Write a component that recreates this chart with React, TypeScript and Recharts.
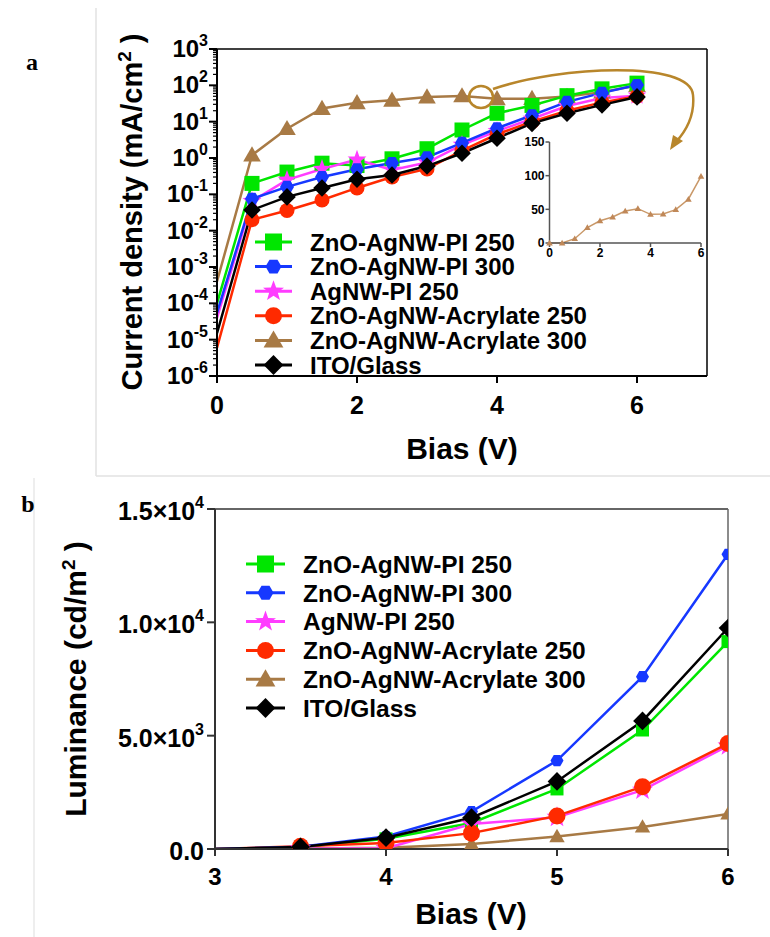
import React from 'react';
import { LineChart, Line, XAxis, YAxis, ReferenceLine } from 'recharts';

const FONT = '"Liberation Sans", Arial, Helvetica, sans-serif';

// series info (legend order)
const seriesNames = [
  'ZnO-AgNW-PI 250',
  'ZnO-AgNW-PI 300',
  'AgNW-PI 250',
  'ZnO-AgNW-Acrylate 250',
  'ZnO-AgNW-Acrylate 300',
  'ITO/Glass',
];
const seriesColors = ['#00e600', '#1638ff', '#ff3cff', '#ff2a00', '#a87a45', '#000000'];
const seriesShapes = ['square', 'hex', 'star', 'circle', 'tri', 'diamond'];
// bottom -> top
const drawOrder = [4, 0, 2, 3, 1, 5];

// panel a: current density (mA/cm2) vs bias
const biasA = [0, 0.5, 1, 1.5, 2, 2.5, 3, 3.5, 4, 4.5, 5, 5.5, 6];
const jPI250 = [1e-4, 0.2, 0.41, 0.72, 0.62, 0.95, 1.8, 5.9, 17, 28, 52, 80, 115];
const jPI300 = [5.5e-5, 0.075, 0.16, 0.3, 0.49, 0.73, 1.05, 2.6, 6.6, 15, 35, 62, 102];
const jAgPI250 = [4e-5, 0.065, 0.25, 0.5, 0.9, 0.47, 0.75, 2.3, 5.5, 12, 27, 45, 52];
const jAcr250 = [6e-6, 0.02, 0.036, 0.07, 0.15, 0.3, 0.5, 1.6, 4.5, 10, 20, 34, 50];
const jAcr300 = [4e-4, 1.2, 6.4, 23, 33, 38.6, 47.5, 51, 42.6, 43, 49.5, 65, 99];
const jITO = [1.5e-5, 0.037, 0.085, 0.15, 0.26, 0.34, 0.6, 1.35, 3.5, 9, 17, 29, 48];
const seriesA = [jPI250, jPI300, jAgPI250, jAcr250, jAcr300, jITO];

const decadesA = [1e-6, 1e-5, 1e-4, 1e-3, 1e-2, 1e-1, 1, 10, 100, 1000];
const decadeExpA = ['-6', '-5', '-4', '-3', '-2', '-1', '0', '1', '2', '3'];
const xTicksA = [0, 2, 4, 6];

// inset: linear scale of the Acrylate 300 curve
const insetBias = [0, 0.5, 1, 1.5, 2, 2.5, 3, 3.5, 4, 4.5, 5, 5.5, 6];
const insetJ = [0, 0, 6.4, 23, 33, 38.6, 47.5, 51, 42.6, 43, 49.5, 65, 99];
const insetXTicks = [0, 2, 4, 6];
const insetYTicks = [0, 50, 100, 150];

// panel b: luminance (cd/m2) vs bias
const biasB = [3, 3.5, 4, 4.5, 5, 5.5, 6];
const lPI250 = [0, 80, 450, 1150, 2650, 5250, 9150];
const lPI300 = [0, 100, 550, 1650, 3900, 7600, 13000];
const lAgPI250 = [0, 10, 30, 1100, 1400, 2600, 4550];
const lAcr250 = [0, 120, 260, 700, 1460, 2750, 4650];
const lAcr300 = [0, 20, 50, 220, 550, 970, 1550];
const lITO = [0, 90, 500, 1380, 2980, 5650, 9750];
const seriesB = [lPI250, lPI300, lAgPI250, lAcr250, lAcr300, lITO];

const yTicksB = [0, 5000, 10000, 15000];
const yTickMantB = ['0.0', '5.0×10', '1.0×10', '1.5×10'];
const yTickExpB = ['', '3', '4', '4'];
const xTicksB = [3, 4, 5, 6];

// minor log ticks
const minorA: number[] = [];
decadesA.slice(0, -1).forEach((d) => {
  for (let m = 2; m <= 9; m++) minorA.push(m * d);
});
const ticksA = [...decadesA, ...minorA];

const tableA = biasA.map((x, i) => {
  const row: Record<string, number> = { x };
  seriesA.forEach((s, k) => (row['s' + k] = s[i]));
  return row;
});
const tableB = biasB.map((x, i) => {
  const row: Record<string, number> = { x };
  seriesB.forEach((s, k) => (row['s' + k] = s[i]));
  return row;
});
const insetTable = insetBias.map((x, i) => ({ x, j: insetJ[i] }));

function Marker({ shape, cx, cy, s, color }: { shape: string; cx: number; cy: number; s: number; color: string }) {
  const h = s / 2;
  switch (shape) {
    case 'square':
      return <rect x={cx - h} y={cy - h} width={s} height={s} fill={color} />;
    case 'hex': {
      const pts = [0, 1, 2, 3, 4, 5]
        .map((i) => {
          const a = (Math.PI / 3) * i;
          return `${cx + h * Math.cos(a)},${cy + h * Math.sin(a)}`;
        })
        .join(' ');
      return <polygon points={pts} fill={color} />;
    }
    case 'star': {
      const pts: string[] = [];
      for (let i = 0; i < 10; i++) {
        const r = i % 2 === 0 ? h * 1.1 : h * 0.45;
        const a = -Math.PI / 2 + (Math.PI / 5) * i;
        pts.push(`${cx + r * Math.cos(a)},${cy + r * Math.sin(a)}`);
      }
      return <polygon points={pts.join(' ')} fill={color} />;
    }
    case 'circle':
      return <circle cx={cx} cy={cy} r={h} fill={color} />;
    case 'tri':
      return (
        <polygon
          points={`${cx},${cy - h * 1.1} ${cx - h * 1.1},${cy + h * 0.8} ${cx + h * 1.1},${cy + h * 0.8}`}
          fill={color}
        />
      );
    case 'diamond':
      return (
        <polygon
          points={`${cx},${cy - h * 1.1} ${cx + h * 1.1},${cy} ${cx},${cy + h * 1.1} ${cx - h * 1.1},${cy}`}
          fill={color}
        />
      );
    default:
      return null;
  }
}

const sizeA: Record<string, number> = { square: 15, hex: 14, star: 18, circle: 15, tri: 16, diamond: 16 };
const sizeB: Record<string, number> = { square: 13, hex: 13, star: 20, circle: 17, tri: 14, diamond: 17 };

function makeDot(k: number, sizes: Record<string, number>) {
  return (p: any) => {
    const key = `d${k}-${p.index}`;
    if (p.index === 0 || p.cx == null || p.cy == null) return <g key={key} />;
    return (
      <Marker key={key} shape={seriesShapes[k]} cx={p.cx} cy={p.cy} s={sizes[seriesShapes[k]]} color={seriesColors[k]} />
    );
  };
}

function YTickA(props: any) {
  const { x, y, payload } = props;
  const idx = decadesA.indexOf(payload.value);
  if (idx < 0) {
    return <line x1={x} x2={x - 4} y1={y} y2={y} stroke="#000" strokeWidth={1.2} />;
  }
  return (
    <g>
      <line x1={x} x2={x - 8} y1={y} y2={y} stroke="#000" strokeWidth={2} />
      <text x={x - 9} y={y + 8} textAnchor="end" fontFamily={FONT} fontWeight={700} fontSize={24} fill="#000">
        10
        <tspan dy={-11} fontSize={16}>
          {decadeExpA[idx]}
        </tspan>
      </text>
    </g>
  );
}

function YTickB(props: any) {
  const { x, y, payload } = props;
  const idx = yTicksB.indexOf(payload.value);
  return (
    <g>
      <line x1={x} x2={x - 8} y1={y} y2={y} stroke="#333" strokeWidth={2} />
      <text x={x - 11} y={y + 11} textAnchor="end" fontFamily={FONT} fontWeight={700} fontSize={25} fill="#000">
        {yTickMantB[idx]}
        {yTickExpB[idx] && (
          <tspan dy={-12} fontSize={16}>
            {yTickExpB[idx]}
          </tspan>
        )}
      </text>
    </g>
  );
}

function Legend({ x, y0, step, fontSize, lineW }: { x: number; y0: number; step: number; fontSize: number; lineW: number }) {
  return (
    <g>
      {seriesNames.map((name, k) => {
        const y = y0 + k * step;
        return (
          <g key={name}>
            <line x1={x} x2={x + lineW} y1={y} y2={y} stroke={seriesColors[k]} strokeWidth={3} />
            <Marker shape={seriesShapes[k]} cx={x + lineW / 2} cy={y} s={sizeA[seriesShapes[k]] + 2} color={seriesColors[k]} />
            <text x={x + lineW + 18} y={y} dy="0.36em" fontFamily={FONT} fontWeight={700} fontSize={fontSize} fill="#000">
              {name}
            </text>
          </g>
        );
      })}
    </g>
  );
}

export default function App() {
  const tickStyle = { fontSize: 25, fontWeight: 700, fill: '#000', fontFamily: FONT };
  return (
    <div style={{ position: 'absolute', left: 0, top: 0, width: 770, height: 937, background: '#fff' }}>
      {/* panel a */}
      <div style={{ position: 'absolute', left: 0, top: 0 }}>
        <LineChart width={770} height={470} data={tableA} margin={{ top: 49, right: 63, left: 137, bottom: 64 }}>
          <XAxis
            dataKey="x"
            type="number"
            domain={[0, 7]}
            ticks={xTicksA}
            allowDataOverflow
            height={30}
            axisLine={{ stroke: '#000', strokeWidth: 2 }}
            tickLine={{ stroke: '#000', strokeWidth: 2 }}
            tickSize={7}
            tickMargin={13}
            tick={tickStyle}
          />
          <YAxis
            type="number"
            scale="log"
            domain={[1e-6, 1000]}
            allowDataOverflow
            ticks={ticksA}
            interval={0}
            width={80}
            axisLine={{ stroke: '#000', strokeWidth: 2 }}
            tickLine={false}
            tickSize={0}
            tickMargin={0}
            tick={(p: any) => <YTickA {...p} />}
          />
          <ReferenceLine y={1000} stroke="#000" strokeWidth={1.5} />
          <ReferenceLine x={7} stroke="#000" strokeWidth={1.5} />
          {drawOrder.map((k) => (
            <Line
              key={k}
              type="linear"
              dataKey={'s' + k}
              stroke={seriesColors[k]}
              strokeWidth={2.5}
              dot={makeDot(k, sizeA)}
              activeDot={false}
              isAnimationActive={false}
            />
          ))}
        </LineChart>
      </div>

      {/* inset */}
      <div style={{ position: 'absolute', left: 490, top: 125 }}>
        <LineChart width={230} height={140} data={insetTable} margin={{ top: 17, right: 19, left: 19.5, bottom: 0 }}>
          <XAxis
            dataKey="x"
            type="number"
            domain={[0, 6]}
            ticks={insetXTicks}
            height={22}
            axisLine={{ stroke: '#555', strokeWidth: 1.5 }}
            tickLine={{ stroke: '#555', strokeWidth: 1.5 }}
            tickSize={4}
            tickMargin={1}
            tick={{ fontSize: 12, fontWeight: 700, fill: '#000', fontFamily: FONT }}
          />
          <YAxis
            type="number"
            domain={[0, 150]}
            ticks={insetYTicks}
            width={40}
            axisLine={{ stroke: '#555', strokeWidth: 1.5 }}
            tickLine={{ stroke: '#555', strokeWidth: 1.5 }}
            tickSize={4}
            tickMargin={1}
            tick={{ fontSize: 12, fontWeight: 700, fill: '#000', fontFamily: FONT }}
          />
          <Line
            type="linear"
            dataKey="j"
            stroke="#c99868"
            strokeWidth={1.5}
            dot={(p: any) => (
              <Marker key={`i-${p.index}`} shape="tri" cx={p.cx} cy={p.cy} s={6} color="#c08858" />
            )}
            activeDot={false}
            isAnimationActive={false}
          />
        </LineChart>
      </div>

      {/* panel b */}
      <div style={{ position: 'absolute', left: 0, top: 460 }}>
        <LineChart width={770} height={477} data={tableB} margin={{ top: 49, right: 42, left: 125, bottom: 58 }}>
          <XAxis
            dataKey="x"
            type="number"
            domain={[3, 6]}
            ticks={xTicksB}
            allowDataOverflow
            height={30}
            axisLine={{ stroke: '#333', strokeWidth: 2 }}
            tickLine={{ stroke: '#333', strokeWidth: 2 }}
            tickSize={7}
            tickMargin={12}
            tick={{ ...tickStyle, fontSize: 24 }}
          />
          <YAxis
            type="number"
            domain={[0, 15000]}
            allowDataOverflow
            ticks={yTicksB}
            interval={0}
            width={90}
            axisLine={{ stroke: '#333', strokeWidth: 2 }}
            tickLine={false}
            tickSize={0}
            tickMargin={0}
            tick={(p: any) => <YTickB {...p} />}
          />
          <ReferenceLine y={15000} stroke="#333" strokeWidth={1.5} />
          <ReferenceLine x={6} stroke="#666" strokeWidth={1.5} />
          {[4, 0, 2, 3, 1, 5].map((k) => (
            <Line
              key={k}
              type="linear"
              dataKey={'s' + k}
              stroke={seriesColors[k]}
              strokeWidth={2.5}
              dot={makeDot(k, sizeB)}
              activeDot={false}
              isAnimationActive={false}
            />
          ))}
        </LineChart>
      </div>

      {/* titles, legends, annotations */}
      <svg width={770} height={937} style={{ position: 'absolute', left: 0, top: 0, pointerEvents: 'none' }}>
        <line x1={96} x2={96} y1={8} y2={476} stroke="#e2e2e2" strokeWidth={1.5} />
        <line x1={96} x2={770} y1={476} y2={476} stroke="#e2e2e2" strokeWidth={1.5} />
        <line x1={34} x2={34} y1={478} y2={937} stroke="#e8e8e8" strokeWidth={1.5} />

        <text x={32} y={70} textAnchor="middle" fontFamily='"Liberation Serif", "Times New Roman", serif' fontWeight={700} fontSize={24}>
          a
        </text>
        <text x={28} y={512} textAnchor="middle" fontFamily='"Liberation Serif", "Times New Roman", serif' fontWeight={700} fontSize={24}>
          b
        </text>

        <text transform="translate(142,212) rotate(-90)" textAnchor="middle" fontFamily={FONT} fontWeight={700} fontSize={29}>
          Current density (mA/cm
          <tspan dy={-11} fontSize={19}>2</tspan>
          <tspan dy={11}> )</tspan>
        </text>
        <text x={462} y={448} dy="0.36em" textAnchor="middle" fontFamily={FONT} fontWeight={700} fontSize={30}>
          Bias (V)
        </text>

        <text transform="translate(86,679) rotate(-90)" textAnchor="middle" fontFamily={FONT} fontWeight={700} fontSize={30}>
          Luminance (cd/m
          <tspan dy={-11} fontSize={19}>2</tspan>
          <tspan dy={11}> )</tspan>
        </text>
        <text x={471} y={913} dy="0.36em" textAnchor="middle" fontFamily={FONT} fontWeight={700} fontSize={30}>
          Bias (V)
        </text>

        <Legend x={255} y0={242} step={24.6} fontSize={24} lineW={37} />
        <Legend x={246} y0={564} step={28.8} fontSize={24.5} lineW={39} />

        <ellipse cx={481} cy={97} rx={12} ry={11} fill="none" stroke="#b8862b" strokeWidth={2.5} />
        <path d="M 493 89 C 560 66, 690 60, 693 95 C 695 115, 686 131, 676 142" fill="none" stroke="#b8862b" strokeWidth={2.5} />
        <polygon points="670,150 683,141 673,135" fill="#b8862b" />
      </svg>
    </div>
  );
}
